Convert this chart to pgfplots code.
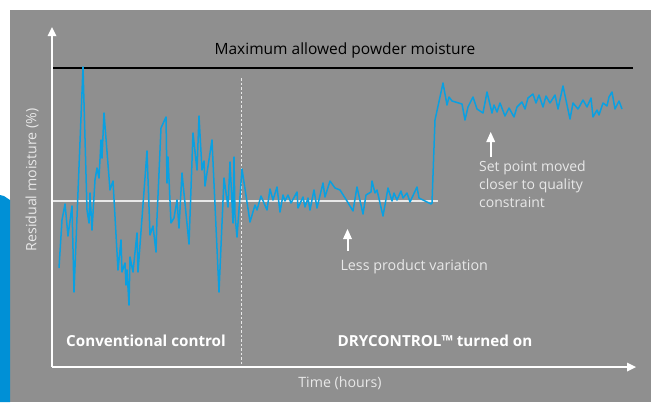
\documentclass[border=0pt]{standalone}
\usepackage{fontspec}
\setmainfont{Open Sans}
\usepackage{pgfplots}
\pgfplotsset{compat=1.18}
\definecolor{bg}{RGB}{143,143,143}
\definecolor{ln}{RGB}{10,160,225}
\definecolor{strip}{RGB}{0,144,214}
\definecolor{lt}{RGB}{232,232,232}
\begin{document}
\begin{tikzpicture}
\begin{axis}[
  width=651pt, height=402pt, scale only axis,
  xmin=0, xmax=651, ymin=0, ymax=402, y dir=reverse,
  hide axis, clip=false,
]
\fill[white] (axis cs:0,0) rectangle (axis cs:651,402);
\fill[bg] (axis cs:10,10) rectangle (axis cs:651,402);
\fill[strip] (axis cs:0,195) -- (axis cs:4,196) -- (axis cs:10,200) -- (axis cs:10,402) -- (axis cs:0,402) -- cycle;
% reference lines
\draw[black, line width=2pt] (axis cs:52,68) -- (axis cs:633,68);
\draw[lt, line width=1.2pt] (axis cs:52,201) -- (axis cs:438,201);
\draw[lt, line width=0.8pt, dash pattern=on 2.5pt off 2pt] (axis cs:241,78) -- (axis cs:241,367);
% series
\addplot[ln, line width=1.5pt, line join=round] coordinates {
(59,268) (62,220) (65,204) (68,236) (72,206) (74,292) (83,67) (87,210) (89,223) (90,193) (92,230) (95,180) (97,168) (99,178) (101,140) (102,158) (104,113)
(110,190) (113,181) (118,270) (121,240) (122,272) (125,263) (126,285) (127,270) (129,305) (130,257) (133,272) (137,233) (138,272) (147,151) (150,235) (153,226) (156,252) (157,218) (161,128) (166,117) (167,183) (168,157) (171,223) (174,218) (177,200) (179,228) (182,173) (189,244) (193,133) (197,170) (199,116) (202,170) (204,161) (205,186) (212,140) (219,292) (224,178) (228,207) (230,162) (233,223) (234,157) (235,215) (237,237)
(242,169) (250,222) (255,205) (257,210) (261,196) (267,210) (270,189) (273,200) (277,187) (280,212) (283,195) (285,201) (288,195) (291,203) (297,192) (298,208) (303,197) (305,207) (308,198) (310,210) (314,190) (317,208) (323,183) (325,197) (330,181) (335,188) (340,190) (347,201) (353,211) (357,187) (363,214) (366,195) (371,192) (372,181) (375,193) (377,190) (383,216) (388,188) (392,201) (394,193) (397,200) (401,191) (403,198) (407,193) (410,202) (417,187) (419,198) (431,204) (432,203)
(435,120) (443,83) (447,105) (449,97) (452,101) (462,104) (465,120) (468,107) (473,97) (477,109) (483,113) (487,92) (492,113) (494,105) (497,112) (500,103) (505,116) (509,108) (514,117) (517,107) (522,102) (525,109) (528,98) (533,94) (536,103) (539,95) (543,107) (546,96) (550,103) (555,95) (558,109) (563,86) (570,119) (573,103) (578,109) (583,100) (587,107) (591,98) (593,117) (597,110) (599,115) (603,103) (607,106) (609,97) (612,92) (615,109) (619,101) (622,109)
};
% axes
\draw[white, line width=1.5pt] (axis cs:52,367) -- (axis cs:52,34);
\fill[white] (axis cs:52,27) -- (axis cs:47.5,36) -- (axis cs:56.5,36) -- cycle;
\draw[white, line width=1.5pt] (axis cs:52,367) -- (axis cs:628,367);
\fill[white] (axis cs:636,367) -- (axis cs:627,362.5) -- (axis cs:627,371.5) -- cycle;
% annotation arrows
\draw[white, line width=2pt] (axis cs:347.5,251) -- (axis cs:347.5,238);
\fill[white] (axis cs:347.5,229) -- (axis cs:343,239) -- (axis cs:352,239) -- cycle;
\draw[white, line width=2pt] (axis cs:490.7,157) -- (axis cs:490.7,141);
\fill[white] (axis cs:490.7,132) -- (axis cs:486.2,142) -- (axis cs:495.2,142) -- cycle;
% texts
\node[black, font=\fontsize{15.5}{18}\selectfont] at (axis cs:345,50) {Maximum allowed powder moisture};
\node[lt, anchor=west, font=\fontsize{14.3}{17}\selectfont] at (axis cs:337,267) {Less product variation};
\node[lt, anchor=north west, align=left, inner sep=0pt, font=\fontsize{14}{18}\selectfont] at (axis cs:479,161) {Set point moved\\closer to quality\\constraint};
\node[white, font=\bfseries\fontsize{15.2}{18}\selectfont] at (axis cs:146,341) {Conventional control};
\node[white, font=\bfseries\fontsize{15.2}{18}\selectfont] at (axis cs:435,341) {DRYCONTROL™ turned on};
\node[lt, font=\fontsize{14.2}{17}\selectfont] at (axis cs:340,383) {Time (hours)};
\node[lt, rotate=90, font=\fontsize{14.2}{17}\selectfont] at (axis cs:32,180) {Residual moisture (\%)};
\end{axis}
\end{tikzpicture}
\end{document}
